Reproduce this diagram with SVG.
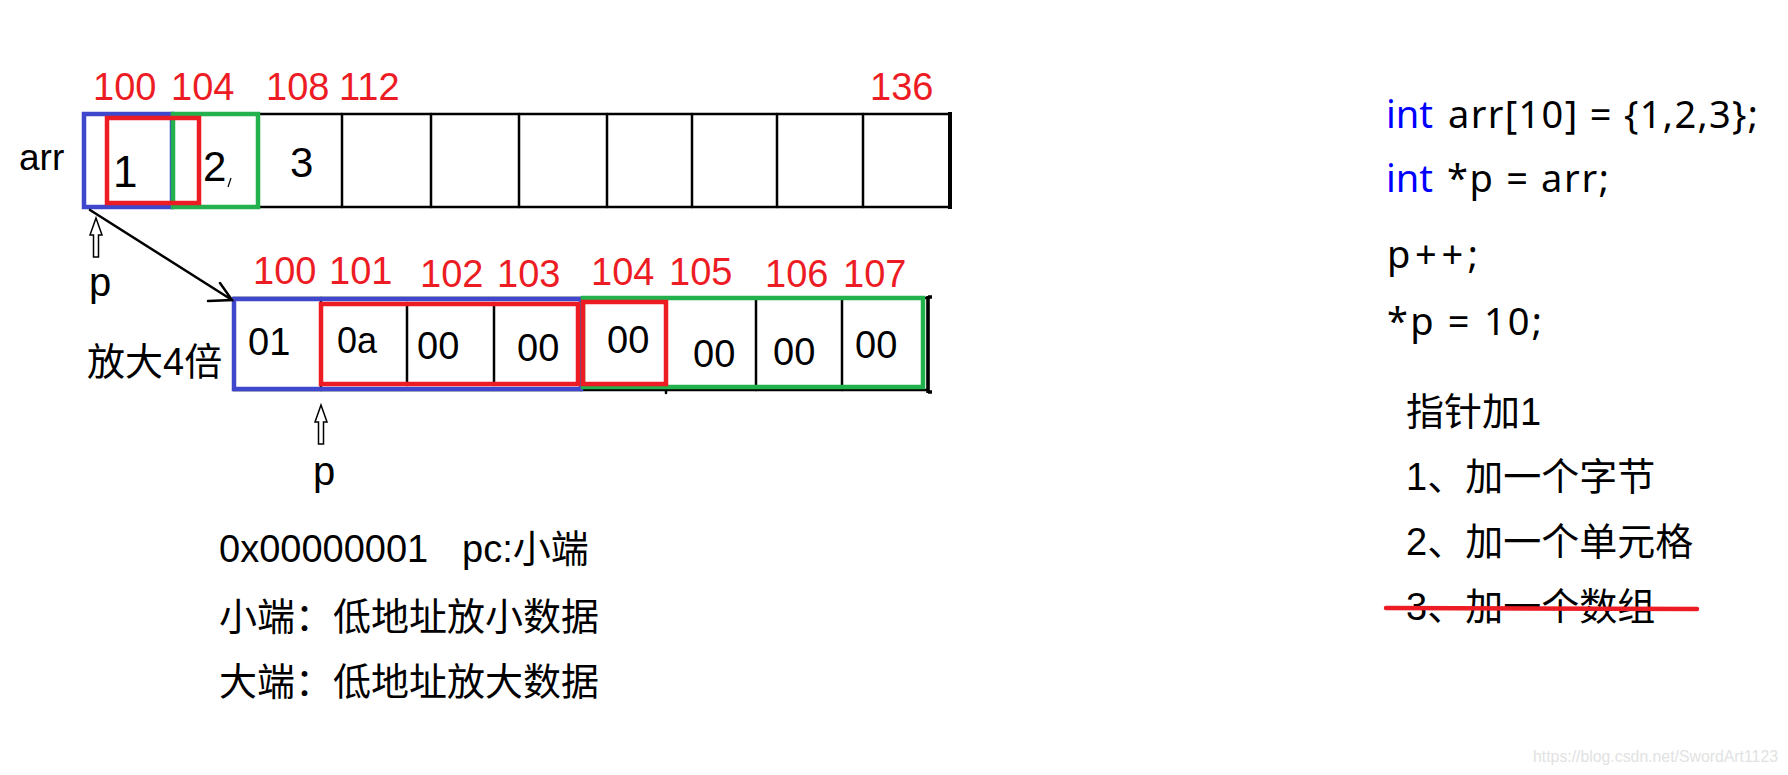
<svg xmlns="http://www.w3.org/2000/svg" width="1788" height="775" viewBox="0 0 1788 775">
<style>
  .t{font-family:"Liberation Sans","Noto Sans CJK SC",sans-serif;fill:#000}
  .code{font-family:"Noto Sans","Liberation Sans",sans-serif;font-size:38px;fill:#000}
  .addr{font-family:"Liberation Sans",sans-serif;font-size:38px;fill:#ED1C24}
  .cell{fill:none;stroke:#000;stroke-width:2.5}
  .blue{fill:none;stroke:#3F48CC;stroke-width:4.5}
  .red{fill:none;stroke:#ED1C24;stroke-width:4.5}
  .green{fill:none;stroke:#22B14C;stroke-width:4.5}
  .kw{fill:#0000FF}
  .ln{stroke:#000;stroke-width:2.5;fill:none;stroke-linecap:round}
</style>
<defs>
  <path id="hollow-up" d="M0,0 L6,17 L2.5,17 L2.5,39 L-2.5,39 L-2.5,17 L-6,17 Z" fill="#fff" stroke="#000" stroke-width="1.5" stroke-linejoin="miter"/>
</defs>
<rect width="1788" height="775" fill="#fff"/>

<!-- top array -->
<g id="top-array">
  <g id="arr-label"><text class="t" x="19" y="170" font-size="37">arr</text></g>
  <g id="arr-cells">
    <rect class="cell" x="84" y="114" width="866" height="93"/>
    <path class="ln" d="M172,114V207M258,114V207M342,114V207M431,114V207M519,114V207M607,114V207M692,114V207M777,114V207M863,114V207" stroke-linecap="butt"/>
    <path d="M950,112V209" stroke="#000" stroke-width="4"/>
  </g>
  <g id="arr-cell-0"><rect class="blue" x="84" y="114" width="88" height="93"/></g>
  <g id="arr-cell-1"><rect class="green" x="173" y="114" width="85" height="93"/></g>
  <g id="arr-int-0"><rect class="red" x="107" y="118" width="92" height="85"/></g>
  <g id="arr-values">
    <text class="t" x="113" y="187" font-size="44">1</text>
    <text class="t" x="203" y="181" font-size="42">2</text>
    <path d="M231,178 L228,187" stroke="#000" stroke-width="1.2"/>
    <text class="t" x="290" y="177" font-size="42">3</text>
  </g>
  <g id="arr-addrs">
    <text class="addr" x="93" y="100">100</text>
    <text class="addr" x="171" y="100">104</text>
    <text class="addr" x="266" y="100">108</text>
    <text class="addr" x="339" y="100">112</text>
    <text class="addr" x="870" y="100">136</text>
  </g>
  <g id="p-top"><text class="t" x="89" y="296" font-size="40">p</text></g>
</g>

<!-- bytes array -->
<g id="bytes-array">
  <g id="zoom-label"><text class="t" x="87" y="375" font-size="38">放大4倍</text></g>
  <g id="byte-cells">
    <rect class="cell" x="234" y="298" width="694" height="92"/>
    <path class="ln" d="M321,298V390M407,303V385M494,303V385M581,298V390M666,298V393M756,298V390M842,298V390" stroke-linecap="butt"/>
    <path d="M928,296V393M928,297H932M928,392H932" stroke="#000" stroke-width="3.5" fill="none"/>
  </g>
  <g id="byte-int-0"><rect class="blue" x="234" y="299" width="347" height="90"/></g>
  <g id="byte-int-1"><rect class="green" x="583" y="298" width="340" height="89"/></g>
  <g id="byte-hi-0"><rect class="red" x="321" y="304" width="257" height="80"/></g>
  <g id="byte-hi-1"><rect class="red" x="583" y="302" width="83" height="82"/></g>
  <g id="byte-values">
    <text class="t" x="248" y="355" font-size="38">01</text>
    <text class="t" x="337" y="353" font-size="36">0a</text>
    <text class="t" x="417" y="359" font-size="38">00</text>
    <text class="t" x="517" y="361" font-size="38">00</text>
    <text class="t" x="607" y="353" font-size="38">00</text>
    <text class="t" x="693" y="367" font-size="38">00</text>
    <text class="t" x="773" y="365" font-size="38">00</text>
    <text class="t" x="855" y="358" font-size="38">00</text>
  </g>
  <g id="byte-addrs">
    <text class="addr" x="253" y="284">100</text>
    <text class="addr" x="329" y="284">101</text>
    <text class="addr" x="420" y="287">102</text>
    <text class="addr" x="497" y="287">103</text>
    <text class="addr" x="591" y="285">104</text>
    <text class="addr" x="669" y="285">105</text>
    <text class="addr" x="765" y="287">106</text>
    <text class="addr" x="843" y="287">107</text>
  </g>
  <g id="p-bytes"><text class="t" x="313" y="485" font-size="40">p</text></g>
</g>

<!-- connectors -->
<g id="connectors">
  <path class="ln" d="M90,210 L232,300 M220,283 L232,300 L208,301"/>
  <use href="#hollow-up" x="96" y="218"/>
  <use href="#hollow-up" x="321" y="405"/>
</g>

<!-- endianness notes -->
<g id="endian-notes">
  <text class="t" x="219" y="562" font-size="38">0x00000001<tspan x="462">pc:小端</tspan></text>
  <text class="t" x="219" y="630" font-size="38">小端：低地址放小数据</text>
  <text class="t" x="219" y="695" font-size="38">大端：低地址放大数据</text>
</g>

<!-- code -->
<g id="code">
  <text class="code kw" x="1386" y="128">int</text>
  <text class="code" x="1448" y="128" textLength="310" lengthAdjust="spacing">arr[10]  = {1,2,3};</text>
  <text class="code kw" x="1386" y="192">int</text>
  <text class="code" x="1447" y="192" textLength="162" lengthAdjust="spacing">*p = arr;</text>
  <text class="code" x="1387" y="268" textLength="91" lengthAdjust="spacing">p++;</text>
  <text class="code" x="1387" y="335" textLength="155" lengthAdjust="spacing">*p = 10;</text>
</g>

<!-- pointer increment notes -->
<g id="increment-notes">
  <text class="t" x="1406" y="425" font-size="38">指针加1</text>
  <text class="t" x="1406" y="490" font-size="38">1、加一个字节</text>
  <text class="t" x="1406" y="555" font-size="38">2、加一个单元格</text>
  <text class="t" x="1406" y="620" font-size="38">3、加一个数组</text>
  <path d="M1386,608 L1697,609" stroke="#ED1C24" stroke-width="4.5" stroke-linecap="round"/>
</g>

<g id="watermark">
  <text x="1533" y="762" font-family="Liberation Sans,sans-serif" font-size="16" fill="#e2e2e2" textLength="245" lengthAdjust="spacingAndGlyphs">https://blog.csdn.net/SwordArt1123</text>
</g>
</svg>
